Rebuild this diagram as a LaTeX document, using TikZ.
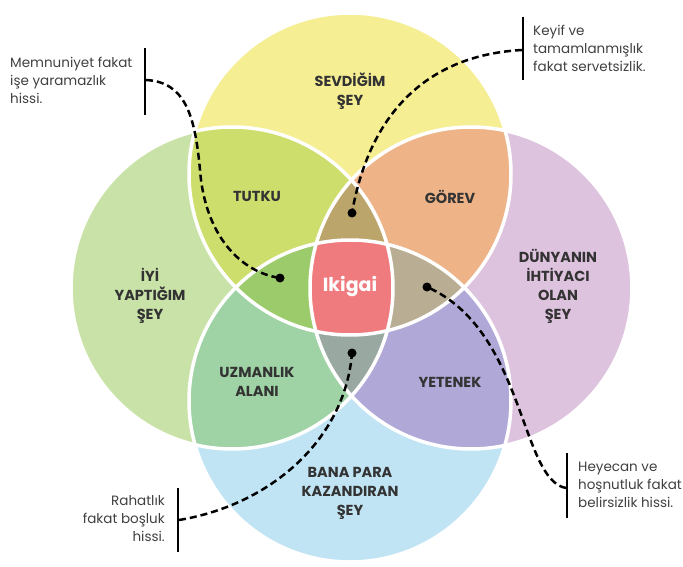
\documentclass[tikz,border=0pt]{standalone}
\usepackage{fontspec}
\setmainfont{Poppins}
\definecolor{cTop}{HTML}{F6EE93}
\definecolor{cLeft}{HTML}{C9E2A8}
\definecolor{cRight}{HTML}{DEC3DF}
\definecolor{cBot}{HTML}{C1E4F4}
\definecolor{cTutku}{HTML}{CDDE6C}
\definecolor{cGorev}{HTML}{EEB488}
\definecolor{cUzman}{HTML}{9FD3A5}
\definecolor{cYetenek}{HTML}{B0A9D8}
\definecolor{cTLR}{HTML}{BCA56B}
\definecolor{cTLB}{HTML}{9CCB6C}
\definecolor{cTRB}{HTML}{B9AE93}
\definecolor{cLRB}{HTML}{99A9A2}
\definecolor{cIki}{HTML}{EF7B7E}
\definecolor{labelc}{HTML}{333333}
\definecolor{notec}{HTML}{404040}
\def\ikR{161pt}
\begin{document}
\begin{tikzpicture}[x=1pt,y=-1pt,
  lbl/.style={font=\fontsize{14.5}{19}\selectfont\bfseries, text=labelc, align=center, inner sep=0pt},
  note/.style={font=\fontsize{13.5}{18}\selectfont, text=notec, inner sep=0pt},
  bar/.style={line width=2.8pt, black},
  conn/.style={line width=2.5pt, black, dash pattern=on 7pt off 4pt},
  dot/.style={circle, fill=black, inner sep=0pt, minimum size=9pt}]
\useasboundingbox (0,0) rectangle (683,567);
\coordinate (cT) at (350,174);
\coordinate (cB) at (350,401);
\coordinate (cL) at (232,288);
\coordinate (cR) at (471,288);
% base circles
\fill[cTop] (cT) circle[radius=\ikR];
\fill[cLeft] (cL) circle[radius=\ikR];
\fill[cRight] (cR) circle[radius=\ikR];
\fill[cBot] (cB) circle[radius=\ikR];
% pairs
\begin{scope}\clip (cT) circle[radius=\ikR]; \fill[cTutku] (cL) circle[radius=\ikR];\end{scope}
\begin{scope}\clip (cT) circle[radius=\ikR]; \fill[cGorev] (cR) circle[radius=\ikR];\end{scope}
\begin{scope}\clip (cL) circle[radius=\ikR]; \fill[cUzman] (cB) circle[radius=\ikR];\end{scope}
\begin{scope}\clip (cR) circle[radius=\ikR]; \fill[cYetenek] (cB) circle[radius=\ikR];\end{scope}
% triples
\begin{scope}\clip (cT) circle[radius=\ikR]; \clip (cL) circle[radius=\ikR]; \fill[cTLR] (cR) circle[radius=\ikR];\end{scope}
\begin{scope}\clip (cT) circle[radius=\ikR]; \clip (cL) circle[radius=\ikR]; \fill[cTLB] (cB) circle[radius=\ikR];\end{scope}
\begin{scope}\clip (cT) circle[radius=\ikR]; \clip (cR) circle[radius=\ikR]; \fill[cTRB] (cB) circle[radius=\ikR];\end{scope}
\begin{scope}\clip (cL) circle[radius=\ikR]; \clip (cR) circle[radius=\ikR]; \fill[cLRB] (cB) circle[radius=\ikR];\end{scope}
% all four
\begin{scope}\clip (cT) circle[radius=\ikR]; \clip (cL) circle[radius=\ikR]; \clip (cR) circle[radius=\ikR]; \fill[cIki] (cB) circle[radius=\ikR];\end{scope}
% outlines
\foreach \c in {cT,cL,cR,cB} \draw[white, line width=3.5pt] (\c) circle[radius=\ikR];
% labels
\node[lbl] (sev) at (350,91) {SEVDİĞİM\\ŞEY};
\node[lbl] (tut) at (257,196) {TUTKU};
\node[lbl] (gor) at (450,197) {GÖREV};
\node[lbl] (iyi) at (150,296) {İYİ\\YAPTIĞIM\\ŞEY};
\node[lbl] (dun) at (558,286) {DÜNYANIN\\İHTİYACI\\OLAN\\ŞEY};
\node[lbl] (uzm) at (257,382) {UZMANLIK\\ALANI};
\node[lbl] (yet) at (450,382) {YETENEK};
\node[lbl] (ban) at (350,493) {BANA PARA\\KAZANDIRAN\\ŞEY};
\node[font=\fontsize{19}{22}\selectfont\bfseries, text=white, inner sep=0pt] (iki) at (350,287) {Ikigai};
% annotations
\node[note, anchor=north west, align=left] (n1) at (10,57) {Memnuniyet fakat\\işe yaramazlık\\hissi.};
\node[note, anchor=north west, align=left] (n2) at (533,25) {Keyif ve\\tamamlanmışlık\\fakat servetsizlik.};
\node[note, anchor=north east, align=right] (n3) at (165,495) {Rahatlık\\fakat boşluk\\hissi.};
\node[note, anchor=north west, align=left] (n4) at (578,462) {Heyecan ve\\hoşnutluk fakat\\belirsizlik hissi.};
% bars
\coordinate (b1t) at (145,48); \coordinate (b1b) at (145,115);
\coordinate (b2t) at (523,17); \coordinate (b2b) at (523,80);
\coordinate (b3t) at (178,488); \coordinate (b3b) at (178,552);
\coordinate (b4t) at (567,453); \coordinate (b4b) at (567,518);
\draw[bar] (b1t) -- (b1b);
\draw[bar] (b2t) -- (b2b);
\draw[bar] (b3t) -- (b3b);
\draw[bar] (b4t) -- (b4b);
% connector ends
\coordinate (t1) at (146,80);
\coordinate (t2) at (522,50);
\coordinate (t3) at (179,520);
\coordinate (t4) at (566,488);
\coordinate (m1) at (200,170);
\coordinate (p1) at (280,278);
\coordinate (p2) at (352,213);
\coordinate (p3) at (352,353);
\coordinate (p4) at (427,287);
\draw[conn] (t1) .. controls (185,82) and (195,115) .. (m1) .. controls (205,235) and (240,272) .. (p1);
\draw[conn] (t2) .. controls (430,55) and (370,110) .. (p2);
\draw[conn] (t3) .. controls (270,505) and (345,440) .. (p3);
\draw[conn] (t4) .. controls (520,480) and (525,330) .. (p4);
\node[dot] (d1) at (p1) {};
\node[dot] (d2) at (p2) {};
\node[dot] (d3) at (p3) {};
\node[dot] (d4) at (p4) {};
\end{tikzpicture}
\end{document}
